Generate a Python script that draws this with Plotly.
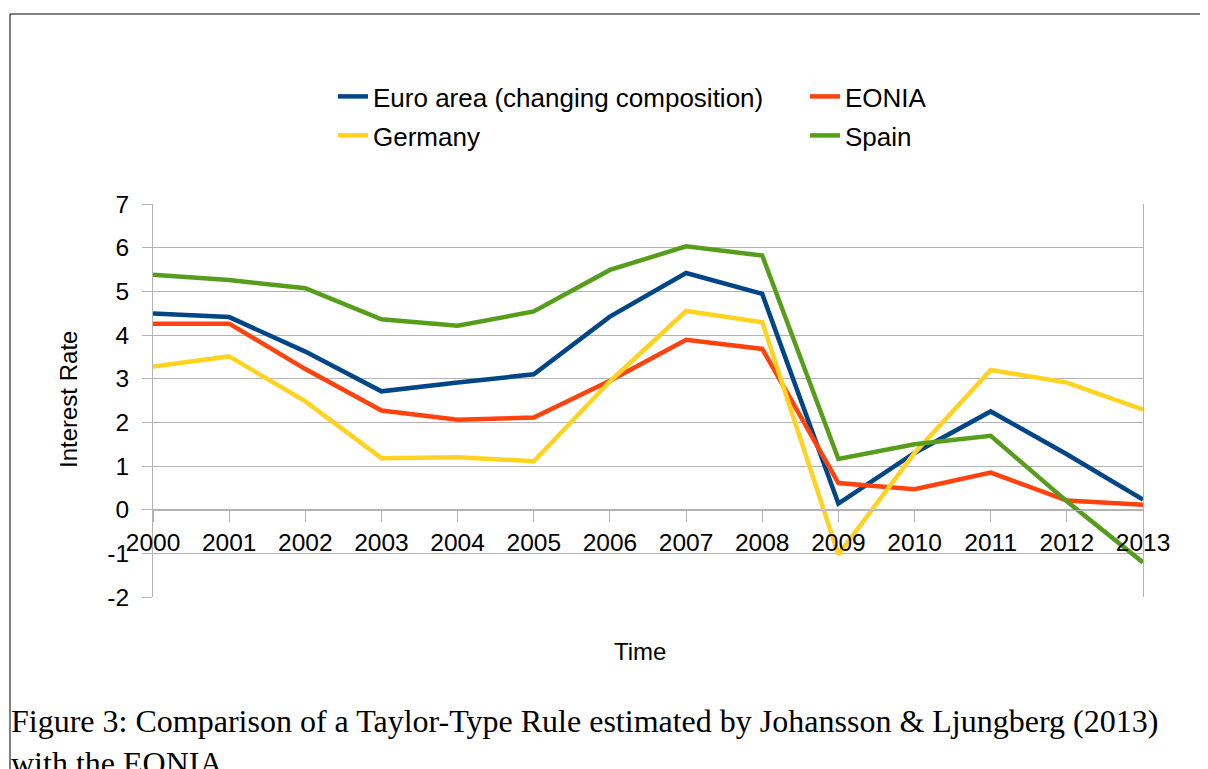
import plotly.graph_objects as go

years = [2000, 2001, 2002, 2003, 2004, 2005, 2006, 2007, 2008, 2009, 2010, 2011, 2012, 2013]
year_labels = [str(y) for y in years]

euro_area = [4.49, 4.41, 3.62, 2.71, 2.91, 3.10, 4.42, 5.42, 4.94, 0.14, 1.30, 2.25, 1.27, 0.23]
eonia = [4.26, 4.26, 3.22, 2.27, 2.06, 2.11, 2.95, 3.89, 3.68, 0.61, 0.47, 0.85, 0.21, 0.11]
germany = [3.28, 3.51, 2.48, 1.18, 1.20, 1.11, 2.94, 4.55, 4.29, -1.03, 1.30, 3.20, 2.91, 2.29]
spain = [5.38, 5.26, 5.07, 4.36, 4.21, 4.54, 5.49, 6.03, 5.82, 1.16, 1.50, 1.69, 0.19, -1.21]

series = [
    ("Euro area (changing composition)", euro_area, "#004586", "legend"),
    ("EONIA", eonia, "#ff420e", "legend"),
    ("Germany", germany, "#ffd320", "legend2"),
    ("Spain", spain, "#579d1c", "legend2"),
]

y_ticks = [-2, -1, 0, 1, 2, 3, 4, 5, 6, 7]
y_labels = ["-2", "-1", "0", "1", "2", "3", "4", "5", "6", "7"]

# page body has an 8px margin; work in page pixel coordinates
OFF = 8
W, H = 1208 - OFF, 769 - OFF
L, T = 153 - OFF, 204 - OFF
R = W - (1143 - OFF)
B = H - (597 - OFF)
pw, ph = W - L - R, H - T - B

def px(x):
    return (x - OFF - L) / pw

def py(y):
    return (H - B - (y - OFF)) / ph

fig = go.Figure()
for name, vals, col, lg in series:
    fig.add_trace(go.Scatter(x=years, y=vals, mode="lines", name=name, legend=lg,
                             line=dict(color=col, width=4.5)))

grid = "#b3b3b3"
leg_common = dict(orientation="h", xanchor="left", yanchor="top",
                  font=dict(size=26), entrywidth=427, entrywidthmode="pixels",
                  bgcolor="rgba(0,0,0,0)", traceorder="normal")
fig.update_layout(
    width=W, height=H,
    margin=dict(l=L, r=R, t=T, b=B, autoexpand=False),
    paper_bgcolor="white", plot_bgcolor="white",
    font=dict(family="Liberation Sans, Arial, sans-serif", color="black"),
    showlegend=True,
    legend=dict(x=px(333), y=py(73), **leg_common),
    legend2=dict(x=px(333), y=py(112), **leg_common),
    xaxis=dict(range=[2000, 2013], tickmode="array", tickvals=years, ticktext=year_labels,
               showgrid=False, zeroline=False, showline=True, linecolor=grid, linewidth=1,
               ticks="outside", ticklen=11, tickcolor=grid, tickwidth=1,
               tickfont=dict(size=24.5), anchor="free", position=2 / 9),
    yaxis=dict(range=[-2, 7], tickmode="array", tickvals=y_ticks, ticktext=y_labels,
               showgrid=True, gridcolor=grid, gridwidth=1, zeroline=False,
               showline=True, linecolor=grid, linewidth=1, mirror=True,
               ticks="outside", ticklen=10, tickcolor=grid, tickwidth=1,
               tickfont=dict(size=24.5), ticklabelstandoff=8),
    annotations=[
        dict(text="Interest Rate", x=px(68), y=py(400), xref="paper", yref="paper",
             textangle=-90, showarrow=False, font=dict(size=24), xanchor="center", yanchor="middle"),
        dict(text="Time", x=px(640), y=py(651), xref="paper", yref="paper",
             showarrow=False, font=dict(size=24), xanchor="center", yanchor="middle"),
        dict(text="Figure 3: Comparison of a Taylor-Type Rule estimated by Johansson &amp; Ljungberg (2013)<br>with the EONIA",
             x=px(9), y=py(701), xref="paper", yref="paper", showarrow=False, align="left",
             xanchor="left", yanchor="top",
             font=dict(family="Liberation Serif, Times New Roman, serif", size=32)),
    ],
    shapes=[
        dict(type="line", xref="paper", yref="paper", x0=px(10), x1=px(1215), y0=py(14), y1=py(14),
             line=dict(color="black", width=1)),
        dict(type="line", xref="paper", yref="paper", x0=px(10), x1=px(10), y0=py(14), y1=py(780),
             line=dict(color="black", width=1)),
    ],
)

fig.write_html("out.html")
